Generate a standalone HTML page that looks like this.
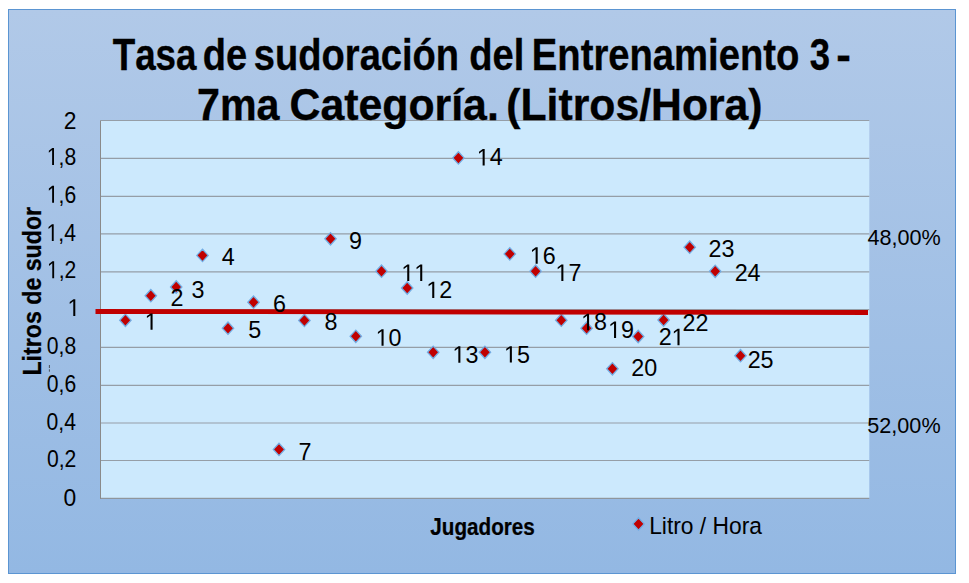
<!DOCTYPE html>
<html><head><meta charset="utf-8"><style>
html,body{margin:0;padding:0;background:#fff;width:969px;height:583px;overflow:hidden}
svg{display:block}
text{font-family:"Liberation Sans",sans-serif;font-kerning:none}
</style></head><body>
<svg width="969" height="583" viewBox="0 0 969 583">
<defs>
<linearGradient id="bg" x1="0" y1="0" x2="0" y2="1">
<stop offset="0" stop-color="#b1c9e8"/>
<stop offset="1" stop-color="#93b8e3"/>
</linearGradient>
</defs>
<rect x="8.5" y="9.5" width="947" height="564" fill="url(#bg)" stroke="#5b95d2" stroke-width="1"/>

<rect x="100.5" y="120.5" width="768.80" height="377.80" fill="#cce9fd"/>
<line x1="100.5" y1="120.50" x2="869.3" y2="120.50" stroke="#959ea7" stroke-width="1.2"/>
<line x1="100.5" y1="158.40" x2="869.3" y2="158.40" stroke="#959ea7" stroke-width="1.2"/>
<line x1="100.5" y1="196.40" x2="869.3" y2="196.40" stroke="#959ea7" stroke-width="1.2"/>
<line x1="100.5" y1="233.90" x2="869.3" y2="233.90" stroke="#959ea7" stroke-width="1.2"/>
<line x1="100.5" y1="271.80" x2="869.3" y2="271.80" stroke="#959ea7" stroke-width="1.2"/>
<line x1="100.5" y1="309.60" x2="869.3" y2="309.60" stroke="#959ea7" stroke-width="1.2"/>
<line x1="100.5" y1="347.30" x2="869.3" y2="347.30" stroke="#959ea7" stroke-width="1.2"/>
<line x1="100.5" y1="385.40" x2="869.3" y2="385.40" stroke="#959ea7" stroke-width="1.2"/>
<line x1="100.5" y1="423.00" x2="869.3" y2="423.00" stroke="#959ea7" stroke-width="1.2"/>
<line x1="100.5" y1="460.50" x2="869.3" y2="460.50" stroke="#959ea7" stroke-width="1.2"/>
<line x1="100.0" y1="498.3" x2="869.3" y2="498.3" stroke="#8a8a8a" stroke-width="1"/>
<line x1="100.5" y1="120.5" x2="100.5" y2="498.8" stroke="#8a8a8a" stroke-width="1"/>
<path d="M125.40,314.10 L131.10,320.30 L125.40,326.50 L119.70,320.30 Z" fill="#c00000" stroke="#72ade4" stroke-width="1.3"/>
<path d="M150.80,289.50 L156.50,295.70 L150.80,301.90 L145.10,295.70 Z" fill="#c00000" stroke="#72ade4" stroke-width="1.3"/>
<path d="M176.20,280.80 L181.90,287.00 L176.20,293.20 L170.50,287.00 Z" fill="#c00000" stroke="#72ade4" stroke-width="1.3"/>
<path d="M202.50,249.20 L208.20,255.40 L202.50,261.60 L196.80,255.40 Z" fill="#c00000" stroke="#72ade4" stroke-width="1.3"/>
<path d="M228.00,322.00 L233.70,328.20 L228.00,334.40 L222.30,328.20 Z" fill="#c00000" stroke="#72ade4" stroke-width="1.3"/>
<path d="M253.50,296.00 L259.20,302.20 L253.50,308.40 L247.80,302.20 Z" fill="#c00000" stroke="#72ade4" stroke-width="1.3"/>
<path d="M279.00,443.20 L284.70,449.40 L279.00,455.60 L273.30,449.40 Z" fill="#c00000" stroke="#72ade4" stroke-width="1.3"/>
<path d="M304.40,314.20 L310.10,320.40 L304.40,326.60 L298.70,320.40 Z" fill="#c00000" stroke="#72ade4" stroke-width="1.3"/>
<path d="M330.50,232.60 L336.20,238.80 L330.50,245.00 L324.80,238.80 Z" fill="#c00000" stroke="#72ade4" stroke-width="1.3"/>
<path d="M355.80,330.10 L361.50,336.30 L355.80,342.50 L350.10,336.30 Z" fill="#c00000" stroke="#72ade4" stroke-width="1.3"/>
<path d="M381.50,265.00 L387.20,271.20 L381.50,277.40 L375.80,271.20 Z" fill="#c00000" stroke="#72ade4" stroke-width="1.3"/>
<path d="M407.20,281.80 L412.90,288.00 L407.20,294.20 L401.50,288.00 Z" fill="#c00000" stroke="#72ade4" stroke-width="1.3"/>
<path d="M433.20,346.10 L438.90,352.30 L433.20,358.50 L427.50,352.30 Z" fill="#c00000" stroke="#72ade4" stroke-width="1.3"/>
<path d="M458.40,151.70 L464.10,157.90 L458.40,164.10 L452.70,157.90 Z" fill="#c00000" stroke="#72ade4" stroke-width="1.3"/>
<path d="M484.90,346.10 L490.60,352.30 L484.90,358.50 L479.20,352.30 Z" fill="#c00000" stroke="#72ade4" stroke-width="1.3"/>
<path d="M509.80,247.70 L515.50,253.90 L509.80,260.10 L504.10,253.90 Z" fill="#c00000" stroke="#72ade4" stroke-width="1.3"/>
<path d="M535.60,265.00 L541.30,271.20 L535.60,277.40 L529.90,271.20 Z" fill="#c00000" stroke="#72ade4" stroke-width="1.3"/>
<path d="M561.30,314.00 L567.00,320.20 L561.30,326.40 L555.60,320.20 Z" fill="#c00000" stroke="#72ade4" stroke-width="1.3"/>
<path d="M586.60,322.00 L592.30,328.20 L586.60,334.40 L580.90,328.20 Z" fill="#c00000" stroke="#72ade4" stroke-width="1.3"/>
<path d="M612.40,362.60 L618.10,368.80 L612.40,375.00 L606.70,368.80 Z" fill="#c00000" stroke="#72ade4" stroke-width="1.3"/>
<path d="M638.20,330.30 L643.90,336.50 L638.20,342.70 L632.50,336.50 Z" fill="#c00000" stroke="#72ade4" stroke-width="1.3"/>
<path d="M663.60,313.80 L669.30,320.00 L663.60,326.20 L657.90,320.00 Z" fill="#c00000" stroke="#72ade4" stroke-width="1.3"/>
<path d="M689.70,241.00 L695.40,247.20 L689.70,253.40 L684.00,247.20 Z" fill="#c00000" stroke="#72ade4" stroke-width="1.3"/>
<path d="M715.20,265.10 L720.90,271.30 L715.20,277.50 L709.50,271.30 Z" fill="#c00000" stroke="#72ade4" stroke-width="1.3"/>
<path d="M740.50,349.50 L746.20,355.70 L740.50,361.90 L734.80,355.70 Z" fill="#c00000" stroke="#72ade4" stroke-width="1.3"/>
<line x1="95.5" y1="311.5" x2="868" y2="312.5" stroke="#c00000" stroke-width="4.8"/>
<text transform="translate(144.66,329.78) scale(0.9800,1)" font-size="23.80" font-weight="normal" fill="#000" > </text><path transform="translate(144.66,329.78) scale(0.01139,-0.01162)" d="M515 0H696V1409H530L197 1180V1010L515 1237Z" fill="#000"/>
<text transform="translate(170.53,306.16) scale(0.9800,1)" font-size="23.80" font-weight="normal" fill="#000" >2</text>
<text transform="translate(191.41,298.34) scale(0.9800,1)" font-size="23.80" font-weight="normal" fill="#000" >3</text>
<text transform="translate(221.76,264.74) scale(0.9800,1)" font-size="23.80" font-weight="normal" fill="#000" >4</text>
<text transform="translate(248.37,337.72) scale(0.9800,1)" font-size="23.80" font-weight="normal" fill="#000" >5</text>
<text transform="translate(273.01,311.89) scale(0.9800,1)" font-size="23.80" font-weight="normal" fill="#000" >6</text>
<text transform="translate(298.61,459.69) scale(0.9800,1)" font-size="23.80" font-weight="normal" fill="#000" >7</text>
<text transform="translate(324.60,329.89) scale(0.9800,1)" font-size="23.80" font-weight="normal" fill="#000" >8</text>
<text transform="translate(348.90,248.79) scale(0.9800,1)" font-size="23.80" font-weight="normal" fill="#000" >9</text>
<text transform="translate(375.66,345.69) scale(0.9800,1)" font-size="23.80" font-weight="normal" fill="#000" > 0</text><path transform="translate(375.66,345.69) scale(0.01139,-0.01162)" d="M515 0H696V1409H530L197 1180V1010L515 1237Z" fill="#000"/>
<text transform="translate(401.36,280.98) scale(0.9800,1)" font-size="23.80" font-weight="normal" fill="#000" >  </text><path transform="translate(401.36,280.98) scale(0.01139,-0.01162)" d="M515 0H696V1409H530L197 1180V1010L515 1237Z" fill="#000"/><path transform="translate(414.33,280.98) scale(0.01139,-0.01162)" d="M515 0H696V1409H530L197 1180V1010L515 1237Z" fill="#000"/>
<text transform="translate(426.36,298.04) scale(0.9800,1)" font-size="23.80" font-weight="normal" fill="#000" > 2</text><path transform="translate(426.36,298.04) scale(0.01139,-0.01162)" d="M515 0H696V1409H530L197 1180V1010L515 1237Z" fill="#000"/>
<text transform="translate(452.46,362.64) scale(0.9800,1)" font-size="23.80" font-weight="normal" fill="#000" > 3</text><path transform="translate(452.46,362.64) scale(0.01139,-0.01162)" d="M515 0H696V1409H530L197 1180V1010L515 1237Z" fill="#000"/>
<text transform="translate(476.76,165.48) scale(0.9800,1)" font-size="23.80" font-weight="normal" fill="#000" > 4</text><path transform="translate(476.76,165.48) scale(0.01139,-0.01162)" d="M515 0H696V1409H530L197 1180V1010L515 1237Z" fill="#000"/>
<text transform="translate(503.96,362.52) scale(0.9800,1)" font-size="23.80" font-weight="normal" fill="#000" > 5</text><path transform="translate(503.96,362.52) scale(0.01139,-0.01162)" d="M515 0H696V1409H530L197 1180V1010L515 1237Z" fill="#000"/>
<text transform="translate(529.76,263.69) scale(0.9800,1)" font-size="23.80" font-weight="normal" fill="#000" > 6</text><path transform="translate(529.76,263.69) scale(0.01139,-0.01162)" d="M515 0H696V1409H530L197 1180V1010L515 1237Z" fill="#000"/>
<text transform="translate(555.46,280.88) scale(0.9800,1)" font-size="23.80" font-weight="normal" fill="#000" > 7</text><path transform="translate(555.46,280.88) scale(0.01139,-0.01162)" d="M515 0H696V1409H530L197 1180V1010L515 1237Z" fill="#000"/>
<text transform="translate(581.16,330.24) scale(0.9800,1)" font-size="23.80" font-weight="normal" fill="#000" > 8</text><path transform="translate(581.16,330.24) scale(0.01139,-0.01162)" d="M515 0H696V1409H530L197 1180V1010L515 1237Z" fill="#000"/>
<text transform="translate(608.16,337.94) scale(0.9800,1)" font-size="23.80" font-weight="normal" fill="#000" > 9</text><path transform="translate(608.16,337.94) scale(0.01139,-0.01162)" d="M515 0H696V1409H530L197 1180V1010L515 1237Z" fill="#000"/>
<text transform="translate(631.23,375.79) scale(0.9800,1)" font-size="23.80" font-weight="normal" fill="#000" >20</text>
<text transform="translate(658.63,345.19) scale(0.9800,1)" font-size="23.80" font-weight="normal" fill="#000" >2 </text><path transform="translate(671.61,345.19) scale(0.01139,-0.01162)" d="M515 0H696V1409H530L197 1180V1010L515 1237Z" fill="#000"/>
<text transform="translate(682.53,331.16) scale(0.9800,1)" font-size="23.80" font-weight="normal" fill="#000" >22</text>
<text transform="translate(708.53,256.99) scale(0.9800,1)" font-size="23.80" font-weight="normal" fill="#000" >23</text>
<text transform="translate(734.63,280.96) scale(0.9800,1)" font-size="23.80" font-weight="normal" fill="#000" >24</text>
<text transform="translate(747.63,367.54) scale(0.9800,1)" font-size="23.80" font-weight="normal" fill="#000" >25</text>
<text transform="translate(63.72,129.09) scale(0.9300,1)" font-size="24.60" font-weight="normal" fill="#000" >2</text>
<text transform="translate(46.80,164.96) scale(0.8600,1)" font-size="24.60" font-weight="normal" fill="#000" > ,8</text><path transform="translate(46.80,164.96) scale(0.01033,-0.01201)" d="M515 0H696V1409H530L197 1180V1010L515 1237Z" fill="#000"/>
<text transform="translate(46.82,202.76) scale(0.8600,1)" font-size="24.60" font-weight="normal" fill="#000" > ,6</text><path transform="translate(46.82,202.76) scale(0.01033,-0.01201)" d="M515 0H696V1409H530L197 1180V1010L515 1237Z" fill="#000"/>
<text transform="translate(46.51,241.05) scale(0.8600,1)" font-size="24.60" font-weight="normal" fill="#000" > ,4</text><path transform="translate(46.51,241.05) scale(0.01033,-0.01201)" d="M515 0H696V1409H530L197 1180V1010L515 1237Z" fill="#000"/>
<text transform="translate(46.95,278.17) scale(0.8600,1)" font-size="24.60" font-weight="normal" fill="#000" > ,2</text><path transform="translate(46.95,278.17) scale(0.01033,-0.01201)" d="M515 0H696V1409H530L197 1180V1010L515 1237Z" fill="#000"/>
<text transform="translate(67.52,316.05) scale(0.9300,1)" font-size="24.60" font-weight="normal" fill="#000" > </text><path transform="translate(67.52,316.05) scale(0.01117,-0.01201)" d="M515 0H696V1409H530L197 1180V1010L515 1237Z" fill="#000"/>
<text transform="translate(46.80,353.76) scale(0.8600,1)" font-size="24.60" font-weight="normal" fill="#000" >0,8</text>
<text transform="translate(46.82,392.26) scale(0.8600,1)" font-size="24.60" font-weight="normal" fill="#000" >0,6</text>
<text transform="translate(46.51,429.76) scale(0.8600,1)" font-size="24.60" font-weight="normal" fill="#000" >0,4</text>
<text transform="translate(46.95,467.26) scale(0.8600,1)" font-size="24.60" font-weight="normal" fill="#000" >0,2</text>
<text transform="translate(63.47,505.76) scale(0.9300,1)" font-size="24.60" font-weight="normal" fill="#000" >0</text>
<text transform="translate(867.40,245.30) scale(1.0000,1)" font-size="21.60" font-weight="normal" fill="#000" >48,00%</text>
<text transform="translate(867.34,433.10) scale(1.0000,1)" font-size="21.60" font-weight="normal" fill="#000" >52,00%</text>
<path d="M638.50,517.70 L644.20,523.90 L638.50,530.10 L632.80,523.90 Z" fill="#c00000" stroke="#72ade4" stroke-width="1.3"/>
<text transform="translate(649.13,533.50) scale(0.9711,1)" font-size="23.50" font-weight="normal" fill="#000" >Litro / Hora</text>
<text stroke="#000" stroke-width="0.25" transform="translate(430.29,534.70) scale(0.8874,1)" font-size="23.30" font-weight="bold" fill="#000" >Jugadores</text>
<text transform="translate(40.90,375.55) rotate(-90) scale(0.9090,1)" font-size="25.5" font-weight="bold" stroke="#000" stroke-width="0.25">Litros de sudor</text>
<text transform="translate(112.67,70.00) scale(0.8455,1)" font-size="43.5" font-weight="bold" stroke="#000" stroke-width="0.35">Tasa</text>
<text transform="translate(202.71,70.00) scale(0.8747,1)" font-size="43.5" font-weight="bold" stroke="#000" stroke-width="0.35">de</text>
<text transform="translate(253.84,70.00) scale(0.8758,1)" font-size="43.5" font-weight="bold" stroke="#000" stroke-width="0.35">sudoración</text>
<text transform="translate(469.21,70.00) scale(0.8769,1)" font-size="43.5" font-weight="bold" stroke="#000" stroke-width="0.35">del</text>
<text transform="translate(531.81,70.00) scale(0.8790,1)" font-size="43.5" font-weight="bold" stroke="#000" stroke-width="0.35">Entrenamiento</text>
<text transform="translate(809.64,70.00) scale(0.8395,1)" font-size="43.5" font-weight="bold" stroke="#000" stroke-width="0.35">3</text>
<text transform="translate(836.36,70.00) scale(1.0091,1)" font-size="43.5" font-weight="bold" stroke="#000" stroke-width="0.35">-</text>
<text transform="translate(197.00,119.80) scale(0.9482,1)" font-size="43.5" font-weight="bold" stroke="#000" stroke-width="0.35">7ma</text>
<text transform="translate(289.52,119.80) scale(0.9842,1)" font-size="43.5" font-weight="bold" stroke="#000" stroke-width="0.35">Categoría.</text>
<text transform="translate(506.24,119.80) scale(0.9825,1)" font-size="43.5" font-weight="bold" stroke="#000" stroke-width="0.35">(Litros/Hora)</text>
<line x1="49.4" y1="365" x2="49.4" y2="368" stroke="#333" stroke-width="0.8"/><line x1="49.4" y1="369.3" x2="49.4" y2="371.7" stroke="#333" stroke-width="0.8"/>
</svg></body></html>
